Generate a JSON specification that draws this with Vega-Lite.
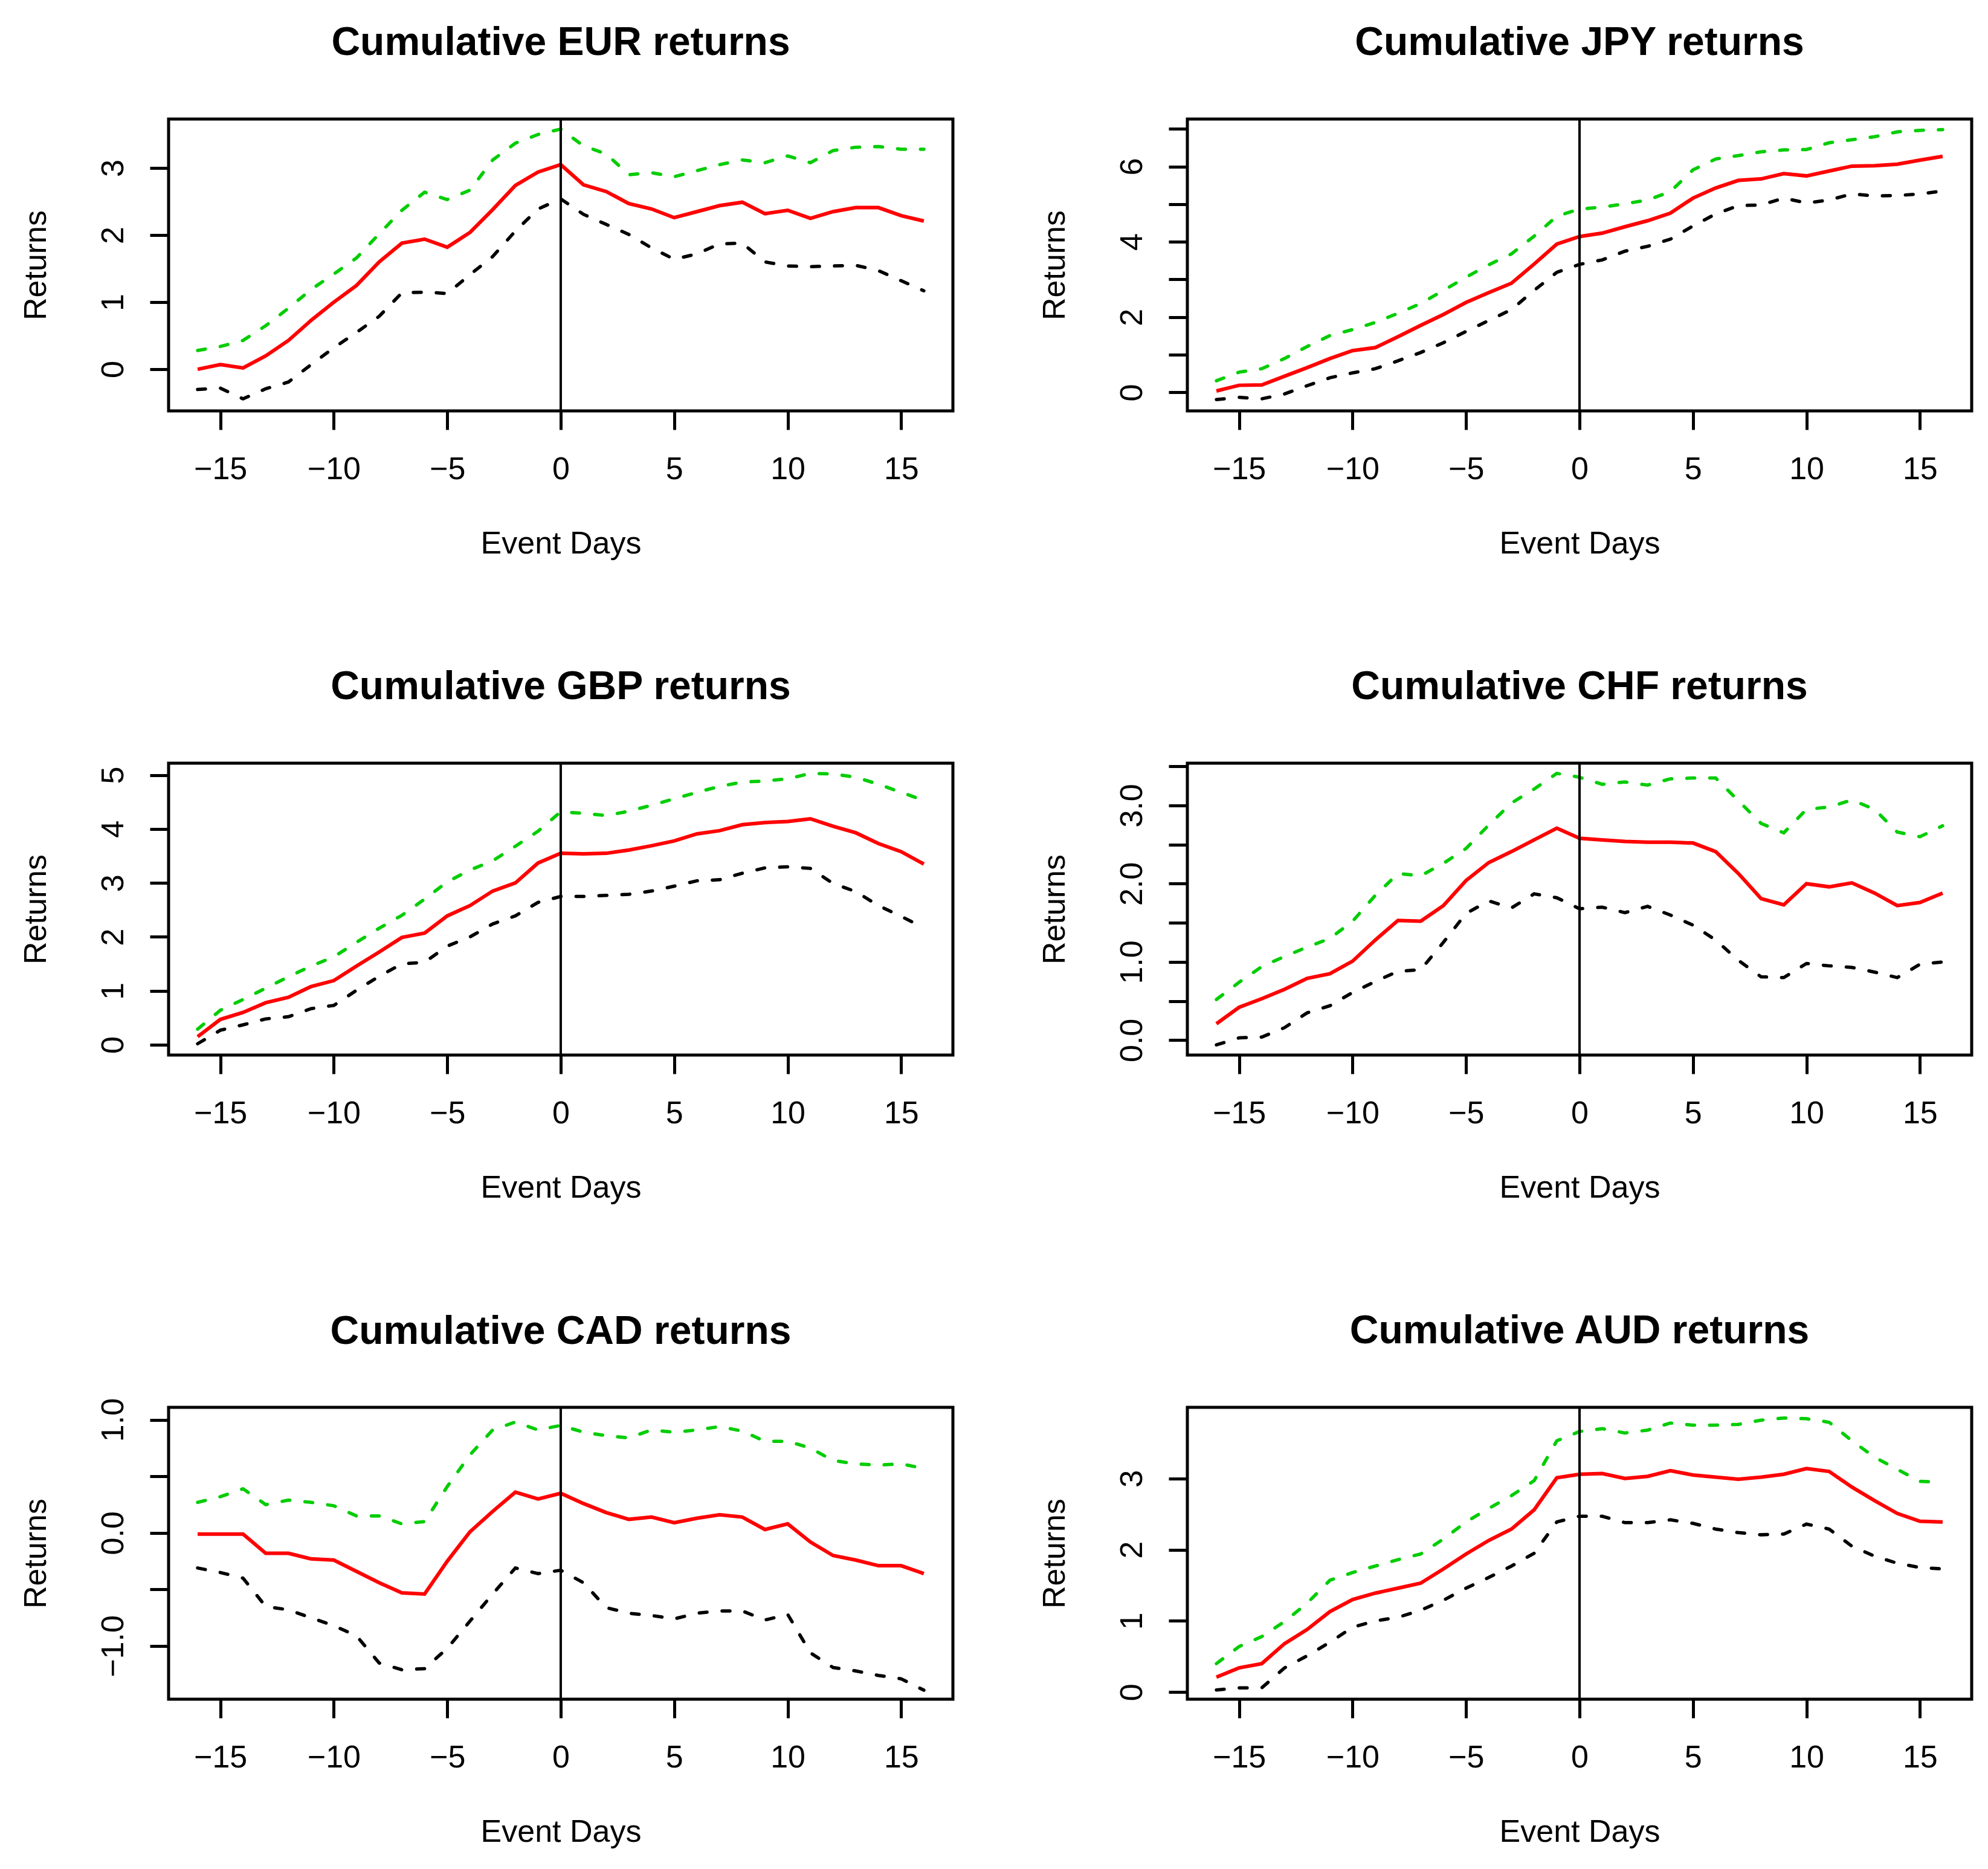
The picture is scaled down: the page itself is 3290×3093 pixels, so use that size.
{
  "$schema": "https://vega.github.io/schema/vega-lite/v6.json",
  "background": "white",
  "padding": {"left": 30, "top": 35, "right": 10, "bottom": 10},
  "autosize": {"type": "pad"},
  "datasets": {
    "ret": [
      {"cur":"EUR","day":-16,"lo":-0.30,"mid":0.00,"hi":0.28},
      {"cur":"EUR","day":-15,"lo":-0.28,"mid":0.07,"hi":0.34},
      {"cur":"EUR","day":-14,"lo":-0.44,"mid":0.02,"hi":0.43},
      {"cur":"EUR","day":-13,"lo":-0.29,"mid":0.20,"hi":0.65},
      {"cur":"EUR","day":-12,"lo":-0.19,"mid":0.43,"hi":0.91},
      {"cur":"EUR","day":-11,"lo":0.07,"mid":0.73,"hi":1.19},
      {"cur":"EUR","day":-10,"lo":0.32,"mid":1.00,"hi":1.42},
      {"cur":"EUR","day":-9,"lo":0.55,"mid":1.25,"hi":1.66},
      {"cur":"EUR","day":-8,"lo":0.79,"mid":1.60,"hi":2.02},
      {"cur":"EUR","day":-7,"lo":1.14,"mid":1.88,"hi":2.37},
      {"cur":"EUR","day":-6,"lo":1.15,"mid":1.94,"hi":2.64},
      {"cur":"EUR","day":-5,"lo":1.13,"mid":1.82,"hi":2.53},
      {"cur":"EUR","day":-4,"lo":1.41,"mid":2.04,"hi":2.67},
      {"cur":"EUR","day":-3,"lo":1.68,"mid":2.38,"hi":3.12},
      {"cur":"EUR","day":-2,"lo":2.06,"mid":2.74,"hi":3.37},
      {"cur":"EUR","day":-1,"lo":2.39,"mid":2.94,"hi":3.50},
      {"cur":"EUR","day":0,"lo":2.54,"mid":3.05,"hi":3.58},
      {"cur":"EUR","day":1,"lo":2.31,"mid":2.75,"hi":3.33},
      {"cur":"EUR","day":2,"lo":2.16,"mid":2.65,"hi":3.21},
      {"cur":"EUR","day":3,"lo":2.01,"mid":2.47,"hi":2.90},
      {"cur":"EUR","day":4,"lo":1.81,"mid":2.39,"hi":2.93},
      {"cur":"EUR","day":5,"lo":1.64,"mid":2.26,"hi":2.87},
      {"cur":"EUR","day":6,"lo":1.72,"mid":2.35,"hi":2.96},
      {"cur":"EUR","day":7,"lo":1.87,"mid":2.44,"hi":3.05},
      {"cur":"EUR","day":8,"lo":1.88,"mid":2.49,"hi":3.12},
      {"cur":"EUR","day":9,"lo":1.60,"mid":2.32,"hi":3.08},
      {"cur":"EUR","day":10,"lo":1.54,"mid":2.37,"hi":3.18},
      {"cur":"EUR","day":11,"lo":1.53,"mid":2.25,"hi":3.08},
      {"cur":"EUR","day":12,"lo":1.54,"mid":2.35,"hi":3.26},
      {"cur":"EUR","day":13,"lo":1.55,"mid":2.41,"hi":3.31},
      {"cur":"EUR","day":14,"lo":1.47,"mid":2.41,"hi":3.32},
      {"cur":"EUR","day":15,"lo":1.32,"mid":2.29,"hi":3.28},
      {"cur":"EUR","day":16,"lo":1.17,"mid":2.21,"hi":3.28},

      {"cur":"JPY","day":-16,"lo":-0.19,"mid":0.04,"hi":0.31},
      {"cur":"JPY","day":-15,"lo":-0.13,"mid":0.19,"hi":0.54},
      {"cur":"JPY","day":-14,"lo":-0.17,"mid":0.20,"hi":0.63},
      {"cur":"JPY","day":-13,"lo":-0.04,"mid":0.43,"hi":0.90},
      {"cur":"JPY","day":-12,"lo":0.18,"mid":0.66,"hi":1.22},
      {"cur":"JPY","day":-11,"lo":0.39,"mid":0.90,"hi":1.51},
      {"cur":"JPY","day":-10,"lo":0.52,"mid":1.11,"hi":1.67},
      {"cur":"JPY","day":-9,"lo":0.63,"mid":1.19,"hi":1.86},
      {"cur":"JPY","day":-8,"lo":0.84,"mid":1.48,"hi":2.10},
      {"cur":"JPY","day":-7,"lo":1.06,"mid":1.78,"hi":2.36},
      {"cur":"JPY","day":-6,"lo":1.32,"mid":2.07,"hi":2.71},
      {"cur":"JPY","day":-5,"lo":1.62,"mid":2.39,"hi":3.06},
      {"cur":"JPY","day":-4,"lo":1.91,"mid":2.65,"hi":3.39},
      {"cur":"JPY","day":-3,"lo":2.20,"mid":2.90,"hi":3.68},
      {"cur":"JPY","day":-2,"lo":2.71,"mid":3.41,"hi":4.15},
      {"cur":"JPY","day":-1,"lo":3.19,"mid":3.94,"hi":4.68},
      {"cur":"JPY","day":0,"lo":3.40,"mid":4.14,"hi":4.87},
      {"cur":"JPY","day":1,"lo":3.52,"mid":4.23,"hi":4.92},
      {"cur":"JPY","day":2,"lo":3.75,"mid":4.40,"hi":5.01},
      {"cur":"JPY","day":3,"lo":3.88,"mid":4.56,"hi":5.11},
      {"cur":"JPY","day":4,"lo":4.07,"mid":4.76,"hi":5.33},
      {"cur":"JPY","day":5,"lo":4.42,"mid":5.16,"hi":5.91},
      {"cur":"JPY","day":6,"lo":4.74,"mid":5.43,"hi":6.20},
      {"cur":"JPY","day":7,"lo":4.96,"mid":5.63,"hi":6.29},
      {"cur":"JPY","day":8,"lo":4.98,"mid":5.67,"hi":6.39},
      {"cur":"JPY","day":9,"lo":5.16,"mid":5.81,"hi":6.44},
      {"cur":"JPY","day":10,"lo":5.03,"mid":5.75,"hi":6.45},
      {"cur":"JPY","day":11,"lo":5.11,"mid":5.88,"hi":6.63},
      {"cur":"JPY","day":12,"lo":5.27,"mid":6.01,"hi":6.71},
      {"cur":"JPY","day":13,"lo":5.22,"mid":6.02,"hi":6.79},
      {"cur":"JPY","day":14,"lo":5.23,"mid":6.06,"hi":6.92},
      {"cur":"JPY","day":15,"lo":5.27,"mid":6.17,"hi":6.96},
      {"cur":"JPY","day":16,"lo":5.35,"mid":6.27,"hi":6.98},

      {"cur":"GBP","day":-16,"lo":0.02,"mid":0.15,"hi":0.29},
      {"cur":"GBP","day":-15,"lo":0.27,"mid":0.47,"hi":0.64},
      {"cur":"GBP","day":-14,"lo":0.37,"mid":0.60,"hi":0.84},
      {"cur":"GBP","day":-13,"lo":0.48,"mid":0.78,"hi":1.05},
      {"cur":"GBP","day":-12,"lo":0.52,"mid":0.88,"hi":1.26},
      {"cur":"GBP","day":-11,"lo":0.67,"mid":1.08,"hi":1.46},
      {"cur":"GBP","day":-10,"lo":0.73,"mid":1.19,"hi":1.63},
      {"cur":"GBP","day":-9,"lo":1.01,"mid":1.46,"hi":1.90},
      {"cur":"GBP","day":-8,"lo":1.27,"mid":1.72,"hi":2.16},
      {"cur":"GBP","day":-7,"lo":1.50,"mid":1.99,"hi":2.40},
      {"cur":"GBP","day":-6,"lo":1.53,"mid":2.07,"hi":2.70},
      {"cur":"GBP","day":-5,"lo":1.83,"mid":2.39,"hi":3.02},
      {"cur":"GBP","day":-4,"lo":2.00,"mid":2.58,"hi":3.24},
      {"cur":"GBP","day":-3,"lo":2.24,"mid":2.85,"hi":3.41},
      {"cur":"GBP","day":-2,"lo":2.39,"mid":3.00,"hi":3.68},
      {"cur":"GBP","day":-1,"lo":2.64,"mid":3.37,"hi":3.96},
      {"cur":"GBP","day":0,"lo":2.75,"mid":3.55,"hi":4.32},
      {"cur":"GBP","day":1,"lo":2.75,"mid":3.54,"hi":4.29},
      {"cur":"GBP","day":2,"lo":2.77,"mid":3.55,"hi":4.25},
      {"cur":"GBP","day":3,"lo":2.79,"mid":3.61,"hi":4.33},
      {"cur":"GBP","day":4,"lo":2.85,"mid":3.69,"hi":4.44},
      {"cur":"GBP","day":5,"lo":2.94,"mid":3.78,"hi":4.56},
      {"cur":"GBP","day":6,"lo":3.04,"mid":3.91,"hi":4.68},
      {"cur":"GBP","day":7,"lo":3.06,"mid":3.97,"hi":4.79},
      {"cur":"GBP","day":8,"lo":3.18,"mid":4.08,"hi":4.87},
      {"cur":"GBP","day":9,"lo":3.28,"mid":4.12,"hi":4.89},
      {"cur":"GBP","day":10,"lo":3.30,"mid":4.14,"hi":4.93},
      {"cur":"GBP","day":11,"lo":3.27,"mid":4.19,"hi":5.03},
      {"cur":"GBP","day":12,"lo":2.99,"mid":4.05,"hi":5.02},
      {"cur":"GBP","day":13,"lo":2.84,"mid":3.93,"hi":4.96},
      {"cur":"GBP","day":14,"lo":2.58,"mid":3.73,"hi":4.83},
      {"cur":"GBP","day":15,"lo":2.38,"mid":3.58,"hi":4.68},
      {"cur":"GBP","day":16,"lo":2.17,"mid":3.35,"hi":4.53},

      {"cur":"CHF","day":-16,"lo":-0.06,"mid":0.21,"hi":0.52},
      {"cur":"CHF","day":-15,"lo":0.03,"mid":0.42,"hi":0.74},
      {"cur":"CHF","day":-14,"lo":0.04,"mid":0.53,"hi":0.94},
      {"cur":"CHF","day":-13,"lo":0.16,"mid":0.65,"hi":1.07},
      {"cur":"CHF","day":-12,"lo":0.35,"mid":0.79,"hi":1.19},
      {"cur":"CHF","day":-11,"lo":0.44,"mid":0.85,"hi":1.30},
      {"cur":"CHF","day":-10,"lo":0.61,"mid":1.01,"hi":1.52},
      {"cur":"CHF","day":-9,"lo":0.75,"mid":1.28,"hi":1.85},
      {"cur":"CHF","day":-8,"lo":0.88,"mid":1.53,"hi":2.13},
      {"cur":"CHF","day":-7,"lo":0.90,"mid":1.52,"hi":2.10},
      {"cur":"CHF","day":-6,"lo":1.25,"mid":1.72,"hi":2.26},
      {"cur":"CHF","day":-5,"lo":1.62,"mid":2.04,"hi":2.45},
      {"cur":"CHF","day":-4,"lo":1.78,"mid":2.27,"hi":2.75},
      {"cur":"CHF","day":-3,"lo":1.69,"mid":2.41,"hi":3.03},
      {"cur":"CHF","day":-2,"lo":1.87,"mid":2.56,"hi":3.21},
      {"cur":"CHF","day":-1,"lo":1.82,"mid":2.71,"hi":3.41},
      {"cur":"CHF","day":0,"lo":1.68,"mid":2.58,"hi":3.36},
      {"cur":"CHF","day":1,"lo":1.70,"mid":2.56,"hi":3.27},
      {"cur":"CHF","day":2,"lo":1.63,"mid":2.54,"hi":3.30},
      {"cur":"CHF","day":3,"lo":1.71,"mid":2.53,"hi":3.26},
      {"cur":"CHF","day":4,"lo":1.60,"mid":2.53,"hi":3.34},
      {"cur":"CHF","day":5,"lo":1.47,"mid":2.52,"hi":3.35},
      {"cur":"CHF","day":6,"lo":1.28,"mid":2.41,"hi":3.35},
      {"cur":"CHF","day":7,"lo":1.02,"mid":2.13,"hi":3.06},
      {"cur":"CHF","day":8,"lo":0.81,"mid":1.81,"hi":2.77},
      {"cur":"CHF","day":9,"lo":0.80,"mid":1.73,"hi":2.65},
      {"cur":"CHF","day":10,"lo":0.98,"mid":2.00,"hi":2.95},
      {"cur":"CHF","day":11,"lo":0.95,"mid":1.96,"hi":2.98},
      {"cur":"CHF","day":12,"lo":0.93,"mid":2.01,"hi":3.07},
      {"cur":"CHF","day":13,"lo":0.87,"mid":1.88,"hi":2.95},
      {"cur":"CHF","day":14,"lo":0.80,"mid":1.72,"hi":2.66},
      {"cur":"CHF","day":15,"lo":0.97,"mid":1.76,"hi":2.60},
      {"cur":"CHF","day":16,"lo":1.00,"mid":1.88,"hi":2.74},

      {"cur":"CAD","day":-16,"lo":-0.31,"mid":-0.01,"hi":0.27},
      {"cur":"CAD","day":-15,"lo":-0.35,"mid":-0.01,"hi":0.32},
      {"cur":"CAD","day":-14,"lo":-0.40,"mid":-0.01,"hi":0.39},
      {"cur":"CAD","day":-13,"lo":-0.65,"mid":-0.18,"hi":0.25},
      {"cur":"CAD","day":-12,"lo":-0.68,"mid":-0.18,"hi":0.29},
      {"cur":"CAD","day":-11,"lo":-0.75,"mid":-0.23,"hi":0.27},
      {"cur":"CAD","day":-10,"lo":-0.82,"mid":-0.24,"hi":0.24},
      {"cur":"CAD","day":-9,"lo":-0.91,"mid":-0.34,"hi":0.15},
      {"cur":"CAD","day":-8,"lo":-1.15,"mid":-0.44,"hi":0.15},
      {"cur":"CAD","day":-7,"lo":-1.21,"mid":-0.53,"hi":0.08},
      {"cur":"CAD","day":-6,"lo":-1.20,"mid":-0.54,"hi":0.10},
      {"cur":"CAD","day":-5,"lo":-1.02,"mid":-0.25,"hi":0.41},
      {"cur":"CAD","day":-4,"lo":-0.78,"mid":0.01,"hi":0.69},
      {"cur":"CAD","day":-3,"lo":-0.54,"mid":0.19,"hi":0.91},
      {"cur":"CAD","day":-2,"lo":-0.31,"mid":0.36,"hi":0.98},
      {"cur":"CAD","day":-1,"lo":-0.36,"mid":0.30,"hi":0.91},
      {"cur":"CAD","day":0,"lo":-0.33,"mid":0.35,"hi":0.95},
      {"cur":"CAD","day":1,"lo":-0.44,"mid":0.26,"hi":0.89},
      {"cur":"CAD","day":2,"lo":-0.66,"mid":0.18,"hi":0.86},
      {"cur":"CAD","day":3,"lo":-0.71,"mid":0.12,"hi":0.84},
      {"cur":"CAD","day":4,"lo":-0.73,"mid":0.14,"hi":0.91},
      {"cur":"CAD","day":5,"lo":-0.76,"mid":0.09,"hi":0.89},
      {"cur":"CAD","day":6,"lo":-0.71,"mid":0.13,"hi":0.91},
      {"cur":"CAD","day":7,"lo":-0.69,"mid":0.16,"hi":0.94},
      {"cur":"CAD","day":8,"lo":-0.69,"mid":0.14,"hi":0.90},
      {"cur":"CAD","day":9,"lo":-0.77,"mid":0.03,"hi":0.81},
      {"cur":"CAD","day":10,"lo":-0.72,"mid":0.08,"hi":0.81},
      {"cur":"CAD","day":11,"lo":-1.06,"mid":-0.08,"hi":0.75},
      {"cur":"CAD","day":12,"lo":-1.19,"mid":-0.20,"hi":0.64},
      {"cur":"CAD","day":13,"lo":-1.22,"mid":-0.24,"hi":0.61},
      {"cur":"CAD","day":14,"lo":-1.26,"mid":-0.29,"hi":0.60},
      {"cur":"CAD","day":15,"lo":-1.29,"mid":-0.29,"hi":0.61},
      {"cur":"CAD","day":16,"lo":-1.39,"mid":-0.36,"hi":0.57},

      {"cur":"AUD","day":-16,"lo":0.03,"mid":0.21,"hi":0.40},
      {"cur":"AUD","day":-15,"lo":0.06,"mid":0.34,"hi":0.64},
      {"cur":"AUD","day":-14,"lo":0.06,"mid":0.40,"hi":0.78},
      {"cur":"AUD","day":-13,"lo":0.34,"mid":0.68,"hi":0.99},
      {"cur":"AUD","day":-12,"lo":0.51,"mid":0.88,"hi":1.25},
      {"cur":"AUD","day":-11,"lo":0.70,"mid":1.13,"hi":1.57},
      {"cur":"AUD","day":-10,"lo":0.91,"mid":1.30,"hi":1.68},
      {"cur":"AUD","day":-9,"lo":1.00,"mid":1.39,"hi":1.77},
      {"cur":"AUD","day":-8,"lo":1.05,"mid":1.46,"hi":1.86},
      {"cur":"AUD","day":-7,"lo":1.15,"mid":1.53,"hi":1.94},
      {"cur":"AUD","day":-6,"lo":1.29,"mid":1.73,"hi":2.15},
      {"cur":"AUD","day":-5,"lo":1.46,"mid":1.94,"hi":2.39},
      {"cur":"AUD","day":-4,"lo":1.61,"mid":2.13,"hi":2.58},
      {"cur":"AUD","day":-3,"lo":1.77,"mid":2.29,"hi":2.76},
      {"cur":"AUD","day":-2,"lo":1.95,"mid":2.56,"hi":2.97},
      {"cur":"AUD","day":-1,"lo":2.39,"mid":3.01,"hi":3.53},
      {"cur":"AUD","day":0,"lo":2.47,"mid":3.06,"hi":3.66},
      {"cur":"AUD","day":1,"lo":2.47,"mid":3.07,"hi":3.70},
      {"cur":"AUD","day":2,"lo":2.38,"mid":3.00,"hi":3.64},
      {"cur":"AUD","day":3,"lo":2.38,"mid":3.03,"hi":3.68},
      {"cur":"AUD","day":4,"lo":2.42,"mid":3.11,"hi":3.78},
      {"cur":"AUD","day":5,"lo":2.37,"mid":3.05,"hi":3.75},
      {"cur":"AUD","day":6,"lo":2.29,"mid":3.02,"hi":3.75},
      {"cur":"AUD","day":7,"lo":2.24,"mid":2.99,"hi":3.76},
      {"cur":"AUD","day":8,"lo":2.21,"mid":3.02,"hi":3.82},
      {"cur":"AUD","day":9,"lo":2.22,"mid":3.06,"hi":3.85},
      {"cur":"AUD","day":10,"lo":2.36,"mid":3.14,"hi":3.84},
      {"cur":"AUD","day":11,"lo":2.29,"mid":3.10,"hi":3.79},
      {"cur":"AUD","day":12,"lo":2.05,"mid":2.88,"hi":3.53},
      {"cur":"AUD","day":13,"lo":1.91,"mid":2.69,"hi":3.30},
      {"cur":"AUD","day":14,"lo":1.81,"mid":2.51,"hi":3.13},
      {"cur":"AUD","day":15,"lo":1.75,"mid":2.40,"hi":2.96},
      {"cur":"AUD","day":16,"lo":1.73,"mid":2.39,"hi":2.95}
    ]
  },
  "data": {"name": "ret"},
  "columns": 2,
  "spacing": {"row": 583, "column": 388},
  "bounds": "flush",
  "concat": [
    {
      "title": "Cumulative EUR returns",
      "width": 1298, "height": 483,
      "transform": [{"filter": "datum.cur == 'EUR'"}],
      "encoding": {"x": {"field": "day", "type": "quantitative", "scale": {"domain": [-17.28, 17.28], "nice": false, "zero": false}, "axis": {"values": [-15, -10, -5, 0, 5, 10, 15], "format": "d", "title": "Event Days"}}},
      "layer": [
        {"mark": {"type": "line", "color": "#FF0000", "strokeWidth": 6}, "encoding": {"y": {"field": "mid", "type": "quantitative", "title": "Returns", "scale": {"domain": [-0.62, 3.73], "nice": false, "zero": false}, "axis": {"values": [0, 1, 2, 3], "format": "d"}}}},
        {"mark": {"type": "line", "color": "#00CD00", "strokeWidth": 5.5, "strokeDash": [13, 25], "strokeCap": "round"}, "encoding": {"y": {"field": "hi", "type": "quantitative", "title": "Returns"}}},
        {"mark": {"type": "line", "color": "#000000", "strokeWidth": 5.5, "strokeDash": [13, 25], "strokeCap": "round"}, "encoding": {"y": {"field": "lo", "type": "quantitative", "title": "Returns"}}},
        {"mark": {"type": "rule", "color": "#000000", "strokeWidth": 4}, "encoding": {"x": {"datum": 0}}}
      ]
    },
    {
      "title": "Cumulative JPY returns",
      "width": 1298, "height": 483,
      "transform": [{"filter": "datum.cur == 'JPY'"}],
      "encoding": {"x": {"field": "day", "type": "quantitative", "scale": {"domain": [-17.28, 17.28], "nice": false, "zero": false}, "axis": {"values": [-15, -10, -5, 0, 5, 10, 15], "format": "d", "title": "Event Days"}}},
      "layer": [
        {"mark": {"type": "line", "color": "#FF0000", "strokeWidth": 6}, "encoding": {"y": {"field": "mid", "type": "quantitative", "title": "Returns", "scale": {"domain": [-0.49, 7.26], "nice": false, "zero": false}, "axis": {"values": [0, 1, 2, 3, 4, 5, 6, 7], "format": "d", "labelExpr": "datum.value % 2 == 0 ? datum.label : ''"}}}},
        {"mark": {"type": "line", "color": "#00CD00", "strokeWidth": 5.5, "strokeDash": [13, 25], "strokeCap": "round"}, "encoding": {"y": {"field": "hi", "type": "quantitative", "title": "Returns"}}},
        {"mark": {"type": "line", "color": "#000000", "strokeWidth": 5.5, "strokeDash": [13, 25], "strokeCap": "round"}, "encoding": {"y": {"field": "lo", "type": "quantitative", "title": "Returns"}}},
        {"mark": {"type": "rule", "color": "#000000", "strokeWidth": 4}, "encoding": {"x": {"datum": 0}}}
      ]
    },
    {
      "title": "Cumulative GBP returns",
      "width": 1298, "height": 483,
      "transform": [{"filter": "datum.cur == 'GBP'"}],
      "encoding": {"x": {"field": "day", "type": "quantitative", "scale": {"domain": [-17.28, 17.28], "nice": false, "zero": false}, "axis": {"values": [-15, -10, -5, 0, 5, 10, 15], "format": "d", "title": "Event Days"}}},
      "layer": [
        {"mark": {"type": "line", "color": "#FF0000", "strokeWidth": 6}, "encoding": {"y": {"field": "mid", "type": "quantitative", "title": "Returns", "scale": {"domain": [-0.19, 5.22], "nice": false, "zero": false}, "axis": {"values": [0, 1, 2, 3, 4, 5], "format": "d"}}}},
        {"mark": {"type": "line", "color": "#00CD00", "strokeWidth": 5.5, "strokeDash": [13, 25], "strokeCap": "round"}, "encoding": {"y": {"field": "hi", "type": "quantitative", "title": "Returns"}}},
        {"mark": {"type": "line", "color": "#000000", "strokeWidth": 5.5, "strokeDash": [13, 25], "strokeCap": "round"}, "encoding": {"y": {"field": "lo", "type": "quantitative", "title": "Returns"}}},
        {"mark": {"type": "rule", "color": "#000000", "strokeWidth": 4}, "encoding": {"x": {"datum": 0}}}
      ]
    },
    {
      "title": "Cumulative CHF returns",
      "width": 1298, "height": 483,
      "transform": [{"filter": "datum.cur == 'CHF'"}],
      "encoding": {"x": {"field": "day", "type": "quantitative", "scale": {"domain": [-17.28, 17.28], "nice": false, "zero": false}, "axis": {"values": [-15, -10, -5, 0, 5, 10, 15], "format": "d", "title": "Event Days"}}},
      "layer": [
        {"mark": {"type": "line", "color": "#FF0000", "strokeWidth": 6}, "encoding": {"y": {"field": "mid", "type": "quantitative", "title": "Returns", "scale": {"domain": [-0.19, 3.54], "nice": false, "zero": false}, "axis": {"values": [0, 0.5, 1, 1.5, 2, 2.5, 3, 3.5], "format": ".1f", "labelExpr": "datum.value % 1 == 0 ? datum.label : ''"}}}},
        {"mark": {"type": "line", "color": "#00CD00", "strokeWidth": 5.5, "strokeDash": [13, 25], "strokeCap": "round"}, "encoding": {"y": {"field": "hi", "type": "quantitative", "title": "Returns"}}},
        {"mark": {"type": "line", "color": "#000000", "strokeWidth": 5.5, "strokeDash": [13, 25], "strokeCap": "round"}, "encoding": {"y": {"field": "lo", "type": "quantitative", "title": "Returns"}}},
        {"mark": {"type": "rule", "color": "#000000", "strokeWidth": 4}, "encoding": {"x": {"datum": 0}}}
      ]
    },
    {
      "title": {"text": "Cumulative CAD returns", "offset": 75},
      "width": 1298, "height": 483,
      "transform": [{"filter": "datum.cur == 'CAD'"}],
      "encoding": {"x": {"field": "day", "type": "quantitative", "scale": {"domain": [-17.28, 17.28], "nice": false, "zero": false}, "axis": {"values": [-15, -10, -5, 0, 5, 10, 15], "format": "d", "title": "Event Days"}}},
      "layer": [
        {"mark": {"type": "line", "color": "#FF0000", "strokeWidth": 6}, "encoding": {"y": {"field": "mid", "type": "quantitative", "title": "Returns", "scale": {"domain": [-1.47, 1.11], "nice": false, "zero": false}, "axis": {"values": [-1, -0.5, 0, 0.5, 1], "format": ".1f", "labelExpr": "datum.value % 1 == 0 ? datum.label : ''"}}}},
        {"mark": {"type": "line", "color": "#00CD00", "strokeWidth": 5.5, "strokeDash": [13, 25], "strokeCap": "round"}, "encoding": {"y": {"field": "hi", "type": "quantitative", "title": "Returns"}}},
        {"mark": {"type": "line", "color": "#000000", "strokeWidth": 5.5, "strokeDash": [13, 25], "strokeCap": "round"}, "encoding": {"y": {"field": "lo", "type": "quantitative", "title": "Returns"}}},
        {"mark": {"type": "rule", "color": "#000000", "strokeWidth": 4}, "encoding": {"x": {"datum": 0}}}
      ]
    },
    {
      "title": "Cumulative AUD returns",
      "width": 1298, "height": 483,
      "transform": [{"filter": "datum.cur == 'AUD'"}],
      "encoding": {"x": {"field": "day", "type": "quantitative", "scale": {"domain": [-17.28, 17.28], "nice": false, "zero": false}, "axis": {"values": [-15, -10, -5, 0, 5, 10, 15], "format": "d", "title": "Event Days"}}},
      "layer": [
        {"mark": {"type": "line", "color": "#FF0000", "strokeWidth": 6}, "encoding": {"y": {"field": "mid", "type": "quantitative", "title": "Returns", "scale": {"domain": [-0.10, 4.0], "nice": false, "zero": false}, "axis": {"values": [0, 1, 2, 3], "format": "d"}}}},
        {"mark": {"type": "line", "color": "#00CD00", "strokeWidth": 5.5, "strokeDash": [13, 25], "strokeCap": "round"}, "encoding": {"y": {"field": "hi", "type": "quantitative", "title": "Returns"}}},
        {"mark": {"type": "line", "color": "#000000", "strokeWidth": 5.5, "strokeDash": [13, 25], "strokeCap": "round"}, "encoding": {"y": {"field": "lo", "type": "quantitative", "title": "Returns"}}},
        {"mark": {"type": "rule", "color": "#000000", "strokeWidth": 4}, "encoding": {"x": {"datum": 0}}}
      ]
    }
  ],
  "config": {
    "font": "Liberation Sans",
    "view": {"stroke": "#000000", "strokeWidth": 5, "fill": "white"},
    "axis": {"domain": false, "grid": false, "ticks": true, "tickColor": "#000000", "tickWidth": 5, "tickSize": 31, "labelFont": "Liberation Sans", "labelFontSize": 52, "labelColor": "#000000", "titleFont": "Liberation Sans", "titleFontSize": 52, "titleFontWeight": "normal", "titleColor": "#000000", "labelFlush": false, "labelOverlap": false},
    "axisX": {"labelPadding": 40, "titlePadding": 72},
    "axisY": {"labelAngle": -90, "labelAlign": "center", "labelBaseline": "alphabetic", "labelPadding": 45, "titlePadding": 75},
    "title": {"font": "Liberation Sans", "fontSize": 66, "fontWeight": "bold", "color": "#000000", "offset": 90, "anchor": "middle", "frame": "group"}
  }
}
